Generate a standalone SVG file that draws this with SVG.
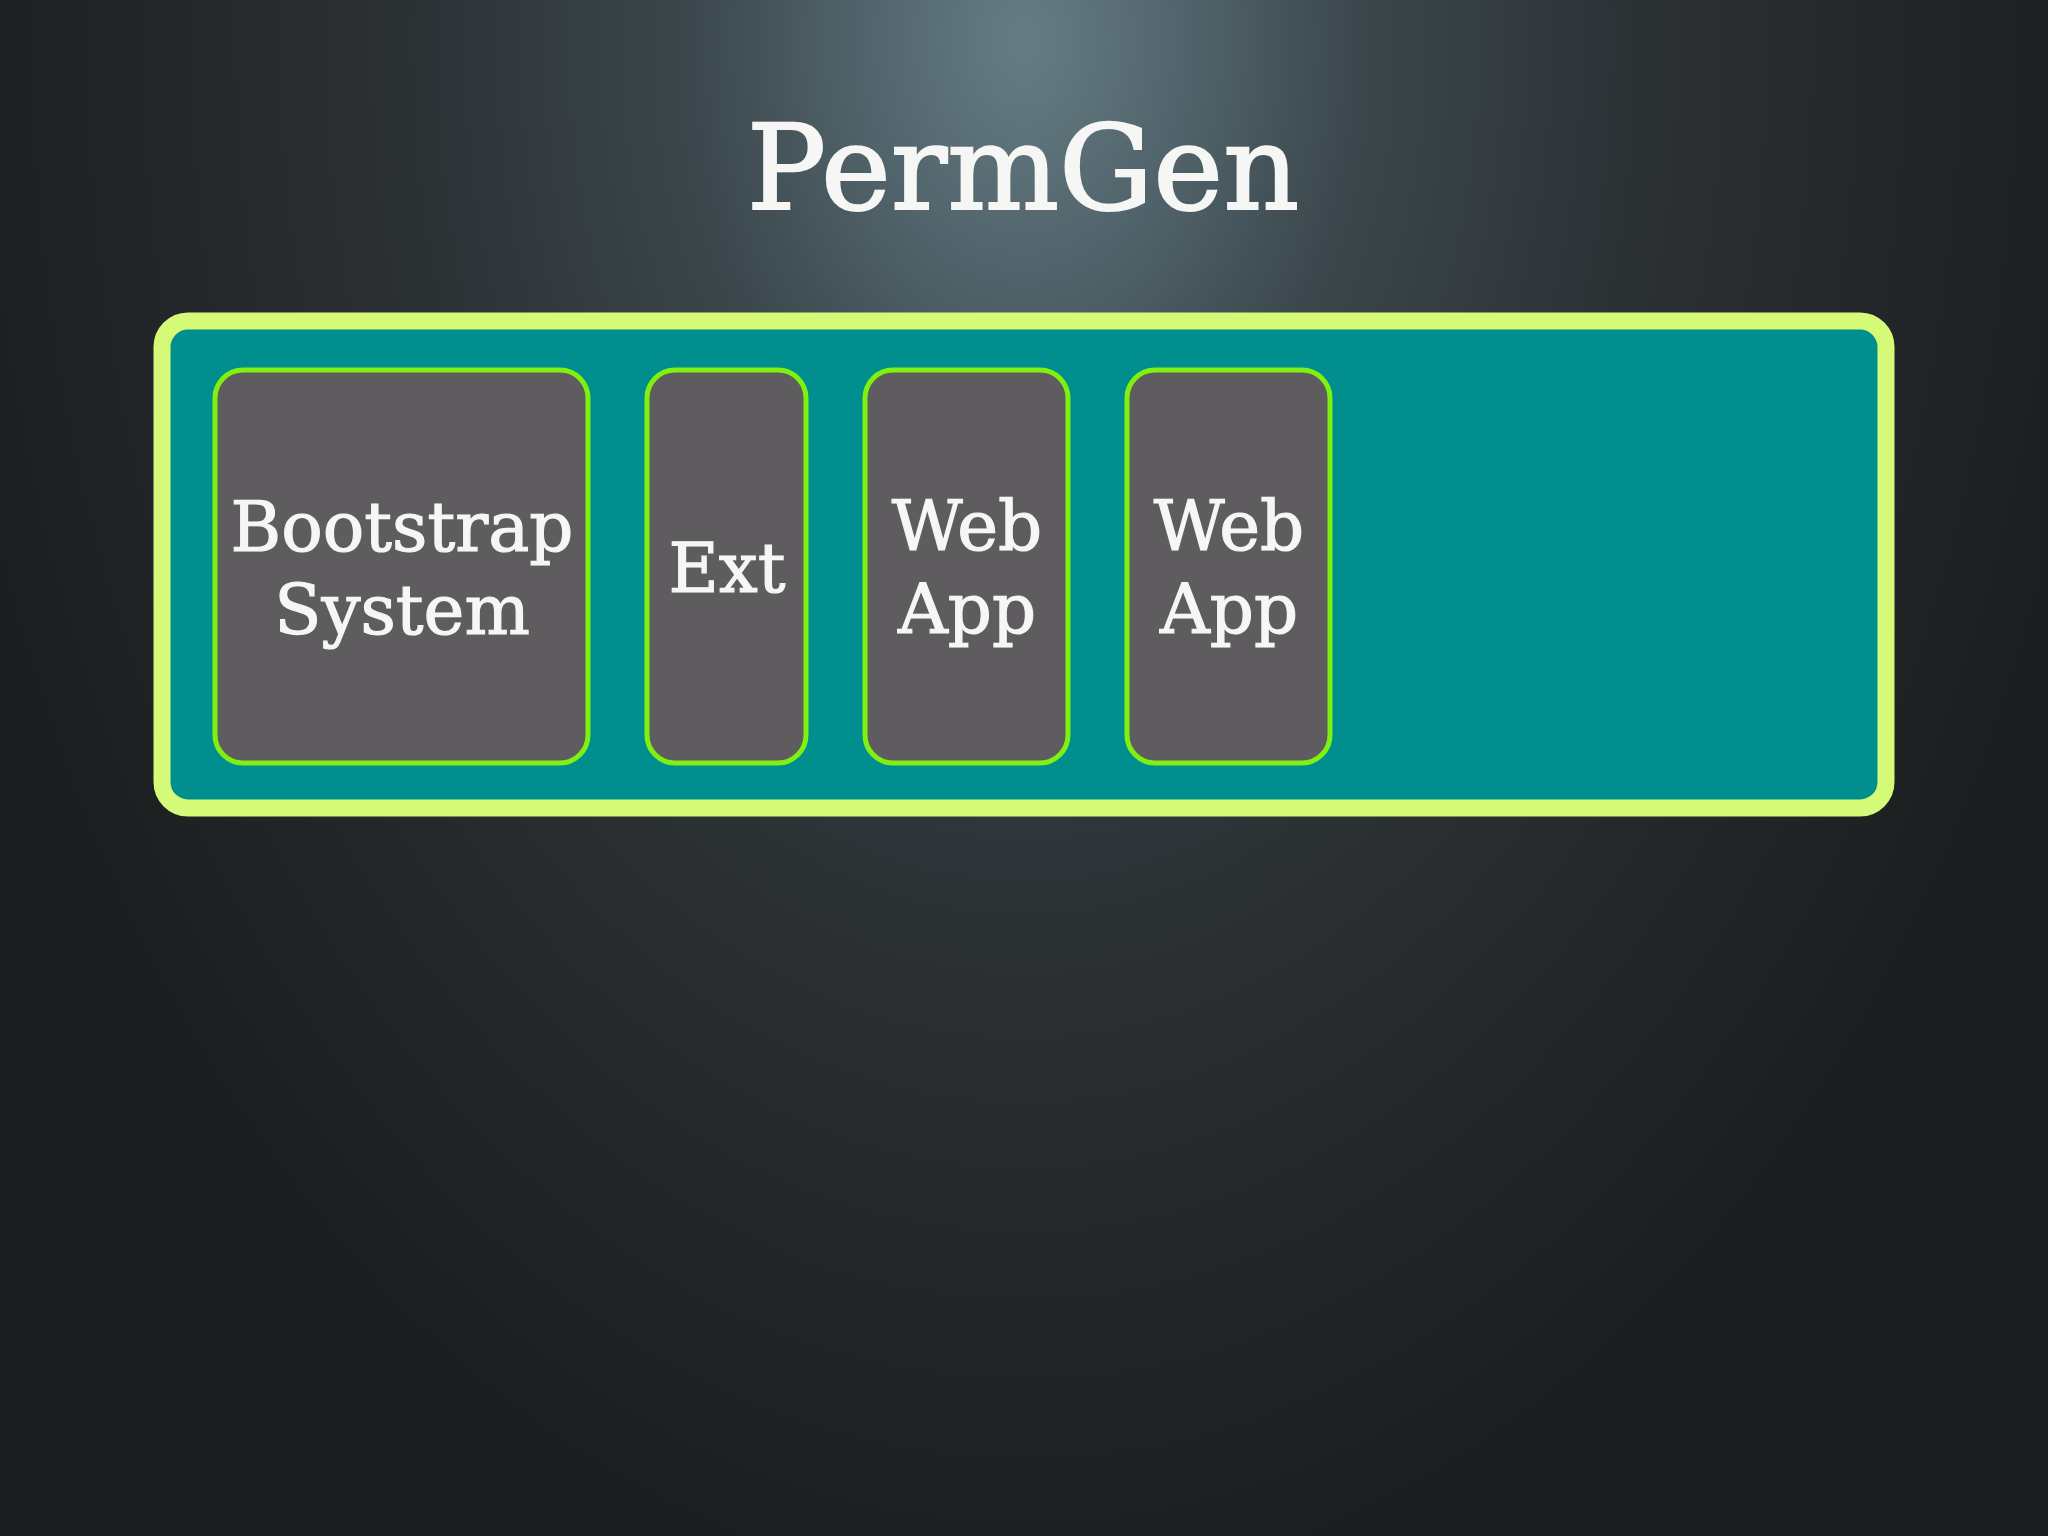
<svg xmlns="http://www.w3.org/2000/svg" width="2048" height="1536" viewBox="0 0 2048 1536">
  <defs>
    <radialGradient id="bg" cx="1024" cy="40" r="1600" gradientUnits="userSpaceOnUse" gradientTransform="translate(1024 40) scale(0.7 1) translate(-1024 -40)">
      <stop offset="0" stop-color="#667c84"/>
      <stop offset="0.12" stop-color="#556870"/>
      <stop offset="0.3" stop-color="#3b474c"/>
      <stop offset="0.55" stop-color="#2c3134"/>
      <stop offset="1" stop-color="#1b1c1e"/>
    </radialGradient>
    <style>
      .title { font-family: "DejaVu Serif", "Liberation Serif", serif; font-size: 118px; fill: #f6f6f4; stroke: #f6f6f4; stroke-width: 2; text-anchor: middle; }
      .lbl { font-family: "DejaVu Serif", "Liberation Serif", serif; font-size: 69px; fill: #f6f6f4; stroke: #f6f6f4; stroke-width: 1.2; text-anchor: middle; }
      .box { fill: #5e5c5e; stroke: #80f010; stroke-width: 5; }
    </style>
  </defs>
  <rect x="0" y="0" width="2048" height="1536" fill="url(#bg)"/>
  <text class="title" x="1023" y="209">PermGen</text>
  <g id="permgen">
    <rect x="162" y="321" width="1724" height="487" rx="26" ry="26" fill="#008e8e" stroke="#d4fa78" stroke-width="17"/>
  </g>
  <g id="bootstrap">
    <rect class="box" x="215" y="370" width="373" height="393" rx="28" ry="28"/>
    <text class="lbl" x="402" y="551">Bootstrap</text>
    <text class="lbl" x="402" y="634">System</text>
  </g>
  <g id="ext">
    <rect class="box" x="647" y="370" width="159" height="393" rx="28" ry="28"/>
    <text class="lbl" x="727" y="592">Ext</text>
  </g>
  <g id="webapp1">
    <rect class="box" x="865" y="370" width="203" height="393" rx="28" ry="28"/>
    <text class="lbl" x="967" y="550">Web</text>
    <text class="lbl" x="967" y="633">App</text>
  </g>
  <g id="webapp2">
    <rect class="box" x="1127" y="370" width="203" height="393" rx="28" ry="28"/>
    <text class="lbl" x="1229" y="550">Web</text>
    <text class="lbl" x="1229" y="633">App</text>
  </g>
  <g id="connectors"/>
</svg>
